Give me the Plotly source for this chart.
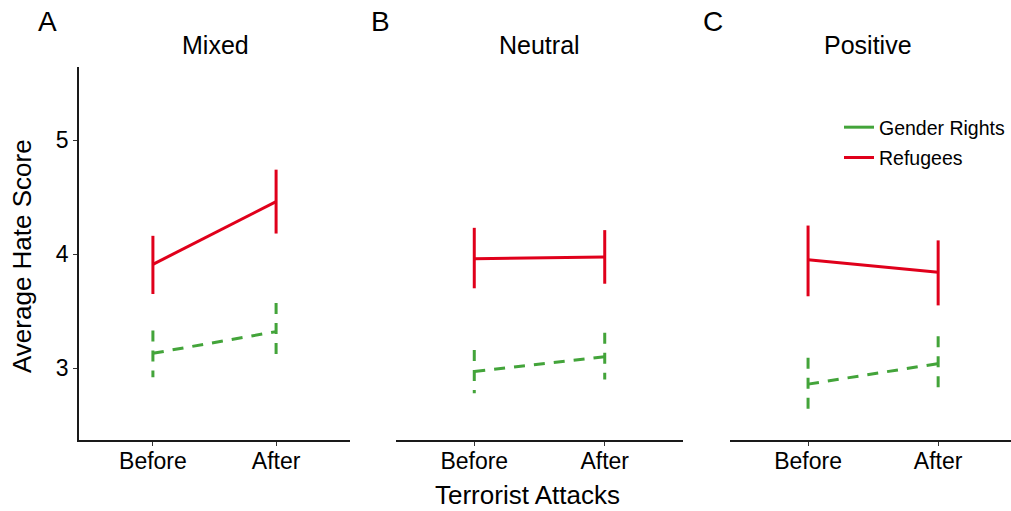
import plotly.graph_objects as go

# ---------------- data ----------------
categories = ["Before", "After"]
panels = ["Mixed", "Neutral", "Positive"]
panel_letters = ["A", "B", "C"]
series_names = ["Gender Rights", "Refugees"]

# Refugees (red, solid)
ref_mean = {"Mixed": [3.91, 4.46], "Neutral": [3.96, 3.975], "Positive": [3.95, 3.84]}
ref_lo   = {"Mixed": [3.65, 4.18], "Neutral": [3.70, 3.74],  "Positive": [3.63, 3.55]}
ref_hi   = {"Mixed": [4.16, 4.74], "Neutral": [4.23, 4.21],  "Positive": [4.25, 4.12]}

# Gender Rights (green, dashed)
gen_mean = {"Mixed": [3.13, 3.32], "Neutral": [2.97, 3.10], "Positive": [2.86, 3.04]}
gen_lo   = {"Mixed": [2.92, 3.105], "Neutral": [2.78, 2.90], "Positive": [2.64, 2.82]}
gen_hi   = {"Mixed": [3.33, 3.57], "Neutral": [3.16, 3.31], "Positive": [3.09, 3.28]}

y_ticks = [3, 4, 5]
y_range = [2.37, 5.64]

RED = "#E0001B"
GREEN = "#43A43A"
FONT = "Liberation Sans, Arial, sans-serif"
DASH = "11px,9px"

# ---------------- layout geometry ----------------
W, H = 1011, 511
ML, MR, MT, MB = 79, 0, 67, 71
PW, PH = W - ML - MR, H - MT - MB


def px_x(p):
    return (p - ML) / PW


def px_y(p):
    return (H - MB - p) / PH


domains = [[0.0, px_x(350)], [px_x(396), px_x(683)], [px_x(730), 1.0]]
x_ranges = [[-0.6, 1.6], [-0.6, 1.6], [-0.6, 1.56]]

fig = go.Figure()

for i, panel in enumerate(panels):
    xa = "x" if i == 0 else f"x{i+1}"
    ya = "y" if i == 0 else f"y{i+1}"
    groups = [
        (gen_mean[panel], gen_lo[panel], gen_hi[panel], GREEN, DASH),
        (ref_mean[panel], ref_lo[panel], ref_hi[panel], RED, "solid"),
    ]
    for mean, lo, hi, col, dash in groups:
        # error segments (no caps)
        ex, ey = [], []
        for c, l, h in zip(categories, lo, hi):
            ex += [c, c, None]
            ey += [h, l, None]
        fig.add_trace(go.Scatter(x=ex, y=ey, mode="lines", xaxis=xa, yaxis=ya,
                                 line=dict(color=col, width=3, dash=dash),
                                 showlegend=False, hoverinfo="skip",
                                 connectgaps=False))
        # mean line
        fig.add_trace(go.Scatter(x=categories, y=mean, mode="lines", xaxis=xa, yaxis=ya,
                                 line=dict(color=col, width=3, dash=dash),
                                 showlegend=False))

# legend-only entries (solid keys)
for name, col in zip(series_names, [GREEN, RED]):
    fig.add_trace(go.Scatter(x=[None], y=[None], mode="lines", name=name,
                             line=dict(color=col, width=3), legendgroup=name,
                             showlegend=True))

layout = dict(
    width=W, height=H,
    margin=dict(l=ML, r=MR, t=MT, b=MB),
    paper_bgcolor="white", plot_bgcolor="white",
    font=dict(family=FONT, color="black", size=23),
    showlegend=True,
    legend=dict(x=px_x(839), y=px_y(108), xanchor="left", yanchor="top",
                font=dict(size=19.5, family=FONT), bgcolor="rgba(0,0,0,0)",
                traceorder="grouped", tracegroupgap=2, itemwidth=30),
)

for i in range(3):
    xk = "xaxis" if i == 0 else f"xaxis{i+1}"
    yk = "yaxis" if i == 0 else f"yaxis{i+1}"
    ya_ref = "y" if i == 0 else f"y{i+1}"
    layout[xk] = dict(domain=domains[i], anchor=ya_ref, type="category",
                      categoryorder="array", categoryarray=categories,
                      range=x_ranges[i], showline=True, linecolor="#1a1a1a",
                      linewidth=1.6, ticks="outside", ticklen=4, tickwidth=1.2,
                      tickcolor="#333", showgrid=False, zeroline=False,
                      ticklabelstandoff=-4,
                      tickfont=dict(size=23, family=FONT, color="black"))
    ydict = dict(domain=[0, 1], anchor="x" if i == 0 else f"x{i+1}",
                 range=y_range, showgrid=False, zeroline=False,
                 tickvals=y_ticks, ticktext=[str(t) for t in y_ticks],
                 tickfont=dict(size=23, family=FONT, color="black"))
    if i == 0:
        ydict.update(showline=True, linecolor="#1a1a1a", linewidth=1.6,
                     ticks="outside", ticklen=4, tickwidth=1.2, tickcolor="#333")
    else:
        ydict.update(showline=False, showticklabels=False, ticks="")
    layout[yk] = ydict

fig.update_layout(**layout)

# annotations: panel letters, facet titles, axis titles
letter_px = [47, 380, 713]
title_px = [215, 539, 868]
for L, lx, T, tx in zip(panel_letters, letter_px, panels, title_px):
    fig.add_annotation(text=L, x=px_x(lx), y=px_y(22), xref="paper", yref="paper",
                       showarrow=False, font=dict(size=28, family=FONT, color="black"),
                       xanchor="center", yanchor="middle")
    fig.add_annotation(text=T, x=px_x(tx), y=px_y(45), xref="paper", yref="paper",
                       showarrow=False, font=dict(size=25, family=FONT, color="black"),
                       xanchor="center", yanchor="middle")

fig.add_annotation(text="Terrorist Attacks", x=px_x(527), y=px_y(495),
                   xref="paper", yref="paper", showarrow=False,
                   font=dict(size=26, family=FONT, color="black"),
                   xanchor="center", yanchor="middle")
fig.add_annotation(text="Average Hate Score", x=px_x(22), y=px_y(256),
                   xref="paper", yref="paper", showarrow=False, textangle=-90,
                   font=dict(size=26, family=FONT, color="black"),
                   xanchor="center", yanchor="middle")

fig.write_html("out.html")
